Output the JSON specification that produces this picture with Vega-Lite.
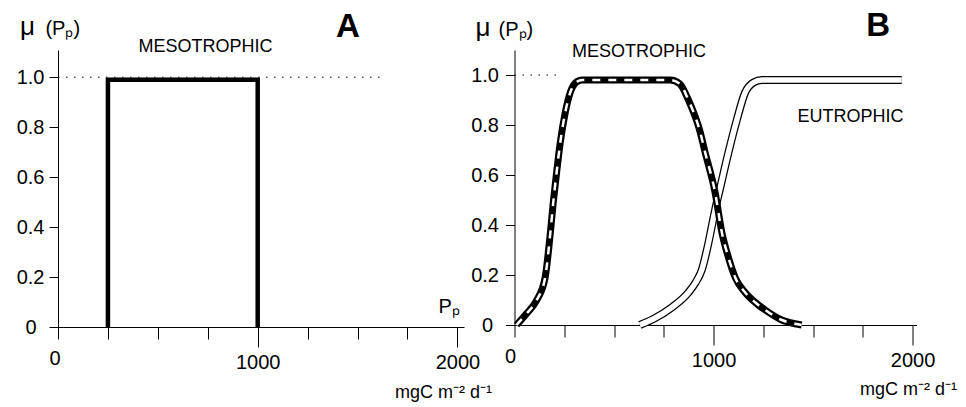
{
  "$schema": "https://vega.github.io/schema/vega-lite/v6.json",
  "background": "white",
  "padding": {"left": 16, "top": 10, "right": 0, "bottom": 0},
  "bounds": "flush",
  "spacing": 50.5,
  "config": {
    "view": {"stroke": null},
    "font": "Liberation Sans",
    "axis": {
      "grid": false,
      "domainColor": "black",
      "domainWidth": 1,
      "tickColor": "black",
      "tickWidth": 1,
      "labelColor": "black",
      "labelFont": "Liberation Sans",
      "labelFontSize": 20,
      "labelOverlap": false,
      "labelBound": false,
      "labelFlush": false,
      "title": null
    }
  },
  "datasets": {
    "a_dot": [{"x": 0, "y": 1}, {"x": 1641, "y": 1}],
    "a_rect": [
      {"x": 250, "y": 0, "o": 1},
      {"x": 250, "y": 0.99, "o": 2},
      {"x": 1000, "y": 0.99, "o": 3},
      {"x": 1000, "y": 0, "o": 4}
    ],
    "b_dot": [{"x": 0, "y": 1}, {"x": 230, "y": 1}],
    "meso": [
      {"x": 10, "y": 0}, {"x": 62, "y": 0.047}, {"x": 112, "y": 0.1}, {"x": 154, "y": 0.19},
      {"x": 179, "y": 0.36}, {"x": 196, "y": 0.5}, {"x": 213, "y": 0.62}, {"x": 230, "y": 0.73},
      {"x": 255, "y": 0.85}, {"x": 280, "y": 0.93}, {"x": 313, "y": 0.973}, {"x": 340, "y": 0.98},
      {"x": 782, "y": 0.98}, {"x": 830, "y": 0.965}, {"x": 874, "y": 0.9}, {"x": 900, "y": 0.85},
      {"x": 930, "y": 0.78}, {"x": 958, "y": 0.69}, {"x": 1008, "y": 0.53}, {"x": 1042, "y": 0.37},
      {"x": 1075, "y": 0.27}, {"x": 1109, "y": 0.19}, {"x": 1159, "y": 0.13}, {"x": 1210, "y": 0.09},
      {"x": 1260, "y": 0.06}, {"x": 1343, "y": 0.02}, {"x": 1410, "y": 0.005}, {"x": 1443, "y": 0}
    ],
    "eutro": [
      {"x": 630, "y": 0}, {"x": 700, "y": 0.025}, {"x": 790, "y": 0.07}, {"x": 874, "y": 0.13},
      {"x": 910, "y": 0.17}, {"x": 941, "y": 0.22}, {"x": 975, "y": 0.33}, {"x": 1008, "y": 0.46},
      {"x": 1034, "y": 0.55}, {"x": 1075, "y": 0.69}, {"x": 1117, "y": 0.82}, {"x": 1159, "y": 0.93},
      {"x": 1201, "y": 0.97}, {"x": 1243, "y": 0.98}, {"x": 1946, "y": 0.98}
    ]
  },
  "hconcat": [
    {
      "width": 406,
      "height": 277,
      "layer": [
        {
          "data": {"name": "a_dot"},
          "mark": {"type": "line", "color": "black", "strokeWidth": 1, "strokeDash": [1.5, 6.5]},
          "encoding": {
            "x": {
              "field": "x", "type": "quantitative",
              "scale": {"domain": [0, 2033], "nice": false},
              "axis": {
                "values": [0, 250, 500, 750, 1000, 1250, 1500, 1750, 2000],
                "format": "d",
                "labelExpr": "datum.value % 1000 == 0 ? datum.label : ''",
                "tickSize": {"condition": {"test": "datum.value == 1000 || datum.value == 2000", "value": 20}, "value": 12},
                "labelPadding": {"condition": {"test": "datum.value == 0", "value": 9}, "value": 5.5},
                "labelOffset": {"condition": {"test": "datum.value == 0", "value": -3.5}, "value": 0}
              }
            },
            "y": {
              "field": "y", "type": "quantitative",
              "scale": {"domain": [0, 1.109], "nice": false},
              "axis": {
                "values": [0, 0.2, 0.4, 0.6, 0.8, 1.0],
                "labelExpr": "datum.value == 0 ? '0' : format(datum.value, '.1f')",
                "tickSize": 9,
                "labelPadding": {"condition": {"test": "datum.value == 0", "value": 13}, "value": 5}
              }
            }
          }
        },
        {
          "data": {"name": "a_rect"},
          "mark": {"type": "line", "color": "black", "strokeWidth": 4.5, "strokeJoin": "miter", "strokeCap": "butt"},
          "encoding": {
            "x": {"field": "x", "type": "quantitative"},
            "y": {"field": "y", "type": "quantitative"},
            "order": {"field": "o", "type": "quantitative"}
          }
        },
        {
          "data": {"values": [{"x": -153, "y": 1.168, "t": "μ"}]},
          "mark": {"type": "text", "fontSize": 26, "align": "center", "baseline": "alphabetic", "color": "black"},
          "encoding": {
            "x": {"field": "x", "type": "quantitative"},
            "y": {"field": "y", "type": "quantitative"},
            "text": {"field": "t"}
          }
        },
        {
          "data": {"values": [{"x": -63, "y": 1.168, "t": "(Pₚ)"}, {"x": 1905, "y": 0.055, "t": "Pₚ"}]},
          "mark": {"type": "text", "fontSize": 20, "align": "left", "baseline": "alphabetic", "color": "black"},
          "encoding": {
            "x": {"field": "x", "type": "quantitative"},
            "y": {"field": "y", "type": "quantitative"},
            "text": {"field": "t"}
          }
        },
        {
          "data": {"values": [{"x": 1452, "y": 1.16, "t": "A"}]},
          "mark": {"type": "text", "fontSize": 33, "fontWeight": "bold", "align": "center", "baseline": "alphabetic", "color": "black"},
          "encoding": {
            "x": {"field": "x", "type": "quantitative"},
            "y": {"field": "y", "type": "quantitative"},
            "text": {"field": "t"}
          }
        },
        {
          "data": {"values": [{"x": 739, "y": 1.1, "t": "MESOTROPHIC"}, {"x": 1930, "y": -0.285, "t": "mgC m⁻² d⁻¹"}]},
          "mark": {"type": "text", "fontSize": 18, "align": "center", "baseline": "alphabetic", "color": "black"},
          "encoding": {
            "x": {"field": "x", "type": "quantitative"},
            "y": {"field": "y", "type": "quantitative"},
            "text": {"field": "t"}
          }
        }
      ]
    },
    {
      "width": 402,
      "height": 275,
      "layer": [
        {
          "data": {"name": "b_dot"},
          "mark": {"type": "line", "color": "black", "strokeWidth": 1, "strokeDash": [1.5, 6.5]},
          "encoding": {
            "x": {
              "field": "x", "type": "quantitative",
              "scale": {"domain": [0, 2020], "nice": false},
              "axis": {
                "values": [0, 250, 500, 750, 1000, 1250, 1500, 1750, 2000],
                "format": "d",
                "labelExpr": "datum.value % 1000 == 0 ? datum.label : ''",
                "tickSize": {"condition": {"test": "datum.value == 1000 || datum.value == 2000", "value": 20}, "value": 12},
                "labelPadding": {"condition": {"test": "datum.value == 0", "value": 9}, "value": 5.5},
                "labelOffset": {"condition": {"test": "datum.value == 0", "value": -4.5}, "value": 0}
              }
            },
            "y": {
              "field": "y", "type": "quantitative",
              "scale": {"domain": [0, 1.1], "nice": false},
              "axis": {
                "values": [0, 0.2, 0.4, 0.6, 0.8, 1.0],
                "labelExpr": "datum.value == 0 ? '0' : format(datum.value, '.1f')",
                "tickSize": 9,
                "labelPadding": {"condition": {"test": "datum.value == 0", "value": 13}, "value": 7}
              }
            }
          }
        },
        {
          "data": {"name": "eutro"},
          "mark": {"type": "line", "color": "black", "strokeWidth": 8, "interpolate": "monotone"},
          "encoding": {
            "x": {"field": "x", "type": "quantitative"},
            "y": {"field": "y", "type": "quantitative"}
          }
        },
        {
          "data": {"name": "eutro"},
          "mark": {"type": "line", "color": "white", "strokeWidth": 5.5, "interpolate": "monotone"},
          "encoding": {
            "x": {"field": "x", "type": "quantitative"},
            "y": {"field": "y", "type": "quantitative"}
          }
        },
        {
          "data": {"name": "meso"},
          "mark": {"type": "line", "color": "black", "strokeWidth": 7, "interpolate": "monotone"},
          "encoding": {
            "x": {"field": "x", "type": "quantitative"},
            "y": {"field": "y", "type": "quantitative"}
          }
        },
        {
          "data": {"name": "meso"},
          "mark": {"type": "line", "color": "white", "strokeWidth": 2.5, "strokeDash": [8, 8], "interpolate": "monotone"},
          "encoding": {
            "x": {"field": "x", "type": "quantitative"},
            "y": {"field": "y", "type": "quantitative"}
          }
        },
        {
          "data": {"values": [{"x": -158, "y": 1.156, "t": "μ"}]},
          "mark": {"type": "text", "fontSize": 26, "align": "center", "baseline": "alphabetic", "color": "black"},
          "encoding": {
            "x": {"field": "x", "type": "quantitative"},
            "y": {"field": "y", "type": "quantitative"},
            "text": {"field": "t"}
          }
        },
        {
          "data": {"values": [{"x": -80, "y": 1.156, "t": "(Pₚ)"}]},
          "mark": {"type": "text", "fontSize": 20, "align": "left", "baseline": "alphabetic", "color": "black"},
          "encoding": {
            "x": {"field": "x", "type": "quantitative"},
            "y": {"field": "y", "type": "quantitative"},
            "text": {"field": "t"}
          }
        },
        {
          "data": {"values": [{"x": 1827, "y": 1.156, "t": "B"}]},
          "mark": {"type": "text", "fontSize": 33, "fontWeight": "bold", "align": "center", "baseline": "alphabetic", "color": "black"},
          "encoding": {
            "x": {"field": "x", "type": "quantitative"},
            "y": {"field": "y", "type": "quantitative"},
            "text": {"field": "t"}
          }
        },
        {
          "data": {"values": [{"x": 626, "y": 1.072, "t": "MESOTROPHIC"}, {"x": 1688, "y": 0.812, "t": "EUTROPHIC"}, {"x": 1980, "y": -0.278, "t": "mgC m⁻² d⁻¹"}]},
          "mark": {"type": "text", "fontSize": 18, "align": "center", "baseline": "alphabetic", "color": "black"},
          "encoding": {
            "x": {"field": "x", "type": "quantitative"},
            "y": {"field": "y", "type": "quantitative"},
            "text": {"field": "t"}
          }
        }
      ]
    }
  ]
}
